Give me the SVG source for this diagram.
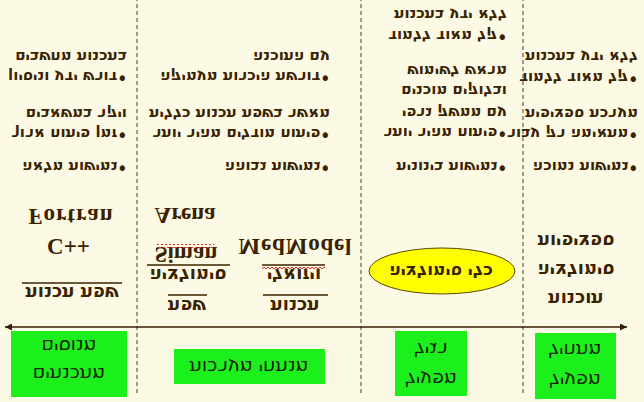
<svg xmlns="http://www.w3.org/2000/svg" width="644" height="402" viewBox="0 0 644 402">
<defs>
<marker id="ah" viewBox="0 0 10 10" refX="10" refY="5" markerWidth="8" markerHeight="7" markerUnits="userSpaceOnUse" orient="auto-start-reverse"><path d="M0,0 L10,5 L0,10 z" fill="#3a1e08"/></marker>
<pattern id="wave" width="4" height="4" patternUnits="userSpaceOnUse"><path d="M0,3 L2,1 L4,3" fill="none" stroke="#e0302a" stroke-width="1"/></pattern>
</defs>
<style>
.t{font-family:"DejaVu Sans","Liberation Sans",sans-serif;font-weight:bold;fill:#3a2200}
.b{font-size:15px;text-anchor:end}
.h{font-size:18px;text-anchor:middle}
.lat{font-family:"Liberation Serif",serif;font-weight:bold;font-size:23px;fill:#3a2200;text-anchor:middle}
.bx{font-family:"DejaVu Sans","Liberation Sans",sans-serif;font-size:19px;fill:#142000;text-anchor:middle}
.ul{stroke:#3a2200;stroke-width:1.3}
.div{stroke:#4a3a2a;stroke-width:1;stroke-dasharray:4 3}
.box{fill:#1cf01c}
</style>
<rect width="644" height="402" fill="#fcfae4"/>
<g transform="translate(0,402) scale(1,-1)">
<g id="dividers">
<line class="div" x1="137" y1="9" x2="137" y2="402"/>
<line class="div" x1="361" y1="9" x2="361" y2="402"/>
<line class="div" x1="523" y1="9" x2="523" y2="402"/>
</g>
<g id="connectors">
<line x1="5" y1="75" x2="627" y2="75" stroke="#3a1e08" stroke-width="1.5" marker-start="url(#ah)" marker-end="url(#ah)"/>
</g>
<g id="box1"><rect class="box" x="11" y="5" width="116" height="66"/>
<text class="bx" x="69" y="34">מתכנתים</text><text class="bx" x="69" y="62">מנוסים</text></g>
<g id="box2"><rect class="box" x="174" y="18" width="151" height="35"/>
<text class="bx" x="249" y="41">מנתחי מערכות</text></g>
<g id="box3"><rect class="box" x="395" y="6" width="72" height="65"/>
<text class="bx" x="431" y="29">מפעיל</text><text class="bx" x="431" y="59">רגיל</text></g>
<g id="box4"><rect class="box" x="535" y="3" width="81" height="66"/>
<text class="bx" x="575" y="28">מפעיל</text><text class="bx" x="575" y="58">מתחיל</text></g>
<g id="col1">
<text class="t h" x="72" y="115">שפת תכנות</text>
<line class="ul" x1="22" y1="119" x2="122" y2="119"/>
<text class="lat" x="68.5" y="163">C++</text>
<text class="lat" x="70.5" y="193" textLength="84" lengthAdjust="spacing">Fortran</text>
<text class="t b" x="127" y="240.5">גמישות מלאה•</text>
<text class="t b" x="127" y="273.5">זמן פיתוח ארוך•</text>
<text class="t b" x="127" y="293.5">ויקר במשאבים</text>
<text class="t b" x="127" y="330.5">דורש ידע וניסיון•</text>
<text class="t b" x="127" y="350.5">בתכנות מחשבים</text>
</g>
<g id="col2">
<text class="t h" x="187" y="102">שפת</text>
<line class="ul" x1="168" y1="107" x2="207" y2="107"/>
<text class="t h" x="188" y="133">סימולציה</text>
<line class="ul" x1="147" y1="137" x2="230" y2="137"/>
<text class="lat" x="186" y="155">Siman</text>
<rect x="157" y="154" width="57" height="4" fill="url(#wave)"/>
<text class="lat" x="185" y="194">Arena</text>
<text class="t h" x="295" y="102">תכנות</text>
<line class="ul" x1="263" y1="107" x2="328" y2="107"/>
<text class="t h" x="294" y="133">ויזואלי</text>
<line class="ul" x1="262" y1="137" x2="325" y2="137"/>
<rect x="262" y="133" width="63" height="4" fill="url(#wave)"/>
<text class="lat" x="295" y="163" textLength="113" lengthAdjust="spacing">MedModel</text>
<text class="t b" x="330" y="240.5">גמישות גבוהה•</text>
<text class="t b" x="330" y="273.5">פיתוח מודלים מהיר יותר•</text>
<text class="t b" x="330" y="293.5">מאשר בשפת תכנות כללית</text>
<text class="t b" x="330" y="330.5">דורשת היכרות מעמיקה•</text>
<text class="t b" x="330" y="350.5">עם התוכנה</text>
</g>
<g id="col3">
<ellipse cx="442" cy="131" rx="73" ry="23" fill="#ffff00" stroke="#5a4800" stroke-width="1"/>
<text class="t h" x="441" y="136" style="font-size:17px">כלי סימולציה</text>
<text class="t b" x="507" y="240.5">גמישות בינונית•</text>
<text class="t b" x="507" y="274.5">פיתוח מהיר יותר•</text>
<text class="t b" x="507" y="294.5">עם ממשק גרפי</text>
<text class="t b" x="507" y="316.5">ובלוקים מוכנים</text>
<text class="t b" x="507" y="336.5">מראש לשימוש</text>
<text class="t b" x="507" y="371.5">קל מאוד ללמוד•</text>
<text class="t b" x="507" y="392.5">ללא ידע בתכנות</text>
</g>
<g id="col4">
<text class="t h" x="576" y="109">תוכנות</text>
<text class="t h" x="576" y="138">סימולציה</text>
<text class="t h" x="576" y="167">ספציפיות</text>
<text class="t b" x="638" y="240.5">גמישות נמוכה•</text>
<text class="t b" x="638" y="273.5">מתאימה רק עבור•</text>
<text class="t b" x="638" y="293.5">מערכת ספציפית</text>
<text class="t b" x="638" y="329.5">קל מאוד ללמוד•</text>
<text class="t b" x="638" y="350.5">ללא ידע בתכנות</text>
</g>
</g>
</svg>
